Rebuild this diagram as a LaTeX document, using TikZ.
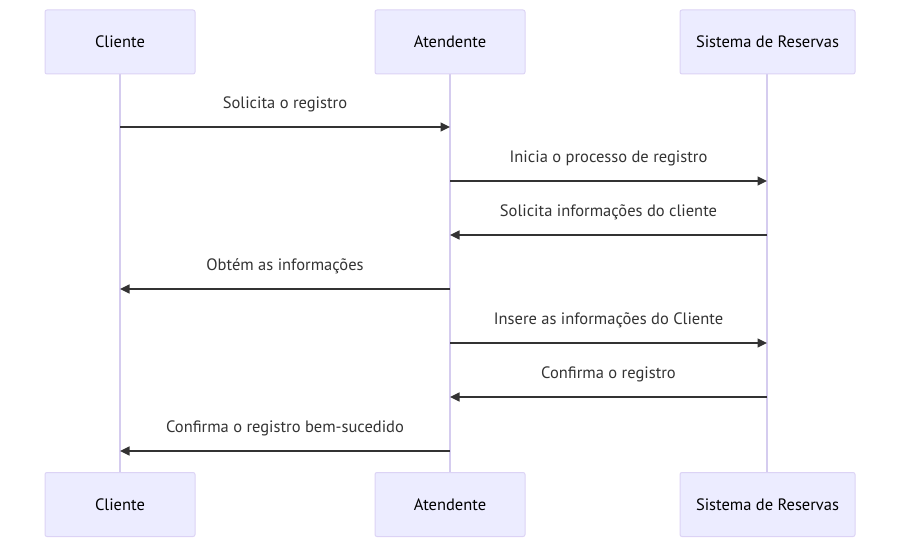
\documentclass[tikz,border=0pt]{standalone}
\usepackage{fontspec}
\setmainfont{PT Sans}
\usetikzlibrary{arrows.meta,positioning}

\definecolor{actorfill}{HTML}{ECECFF}
\definecolor{actorline}{HTML}{DCD3F5}
\definecolor{lifeline}{HTML}{D5CCEF}
\definecolor{msgline}{HTML}{333333}

\tikzset{
  actor/.style={draw=actorline,fill=actorfill,rounded corners=2pt,line width=1pt,
    minimum width=150pt,minimum height=64pt,inner sep=0pt,font=\fontsize{16.5}{18}\selectfont},
  msg/.style={draw=msgline,line width=1.3pt,-{Triangle[length=9.5pt,width=9pt]}},
  msgtext/.style={font=\fontsize{16.5}{18}\selectfont,text=msgline,above=11pt}
}

\begin{document}
\begin{tikzpicture}[x=1pt,y=-1pt]
\useasboundingbox (0,0) rectangle (906,559);

% lifelines
\draw[lifeline,line width=1.5pt] (120,74) -- (120,472);
\draw[lifeline,line width=1.5pt] (450,74) -- (450,472);
\draw[lifeline,line width=1.5pt] (767,74) -- (767,472);

% actors
\node[actor] (cli1) at (120,42) {Cliente};
\node[actor] (ate1) at (450,42) {Atendente};
\node[actor,minimum width=175pt] (sis1) at (767.5,42) {Sistema de Reservas};
\node[actor] (cli2) at (120,504.5) {Cliente};
\node[actor] (ate2) at (450,504.5) {Atendente};
\node[actor,minimum width=175pt] (sis2) at (767.5,504.5) {Sistema de Reservas};

% points on lifelines
\foreach \n/\y in {1/127,2/181,3/235,4/289,5/343,6/397,7/451}{
  \coordinate (c\n) at (120,\y);
  \coordinate (a\n) at (450,\y);
  \coordinate (s\n) at (767,\y);
}

% messages
\draw[msg] (c1) -- node[msgtext] {Solicita o registro} (a1);
\draw[msg] (a2) -- node[msgtext] {Inicia o processo de registro} (s2);
\draw[msg] (s3) -- node[msgtext] {Solicita informações do cliente} (a3);
\draw[msg] (a4) -- node[msgtext] {Obtém as informações} (c4);
\draw[msg] (a5) -- node[msgtext] {Insere as informações do Cliente} (s5);
\draw[msg] (s6) -- node[msgtext] {Confirma o registro} (a6);
\draw[msg] (a7) -- node[msgtext] {Confirma o registro bem-sucedido} (c7);
\end{tikzpicture}
\end{document}
